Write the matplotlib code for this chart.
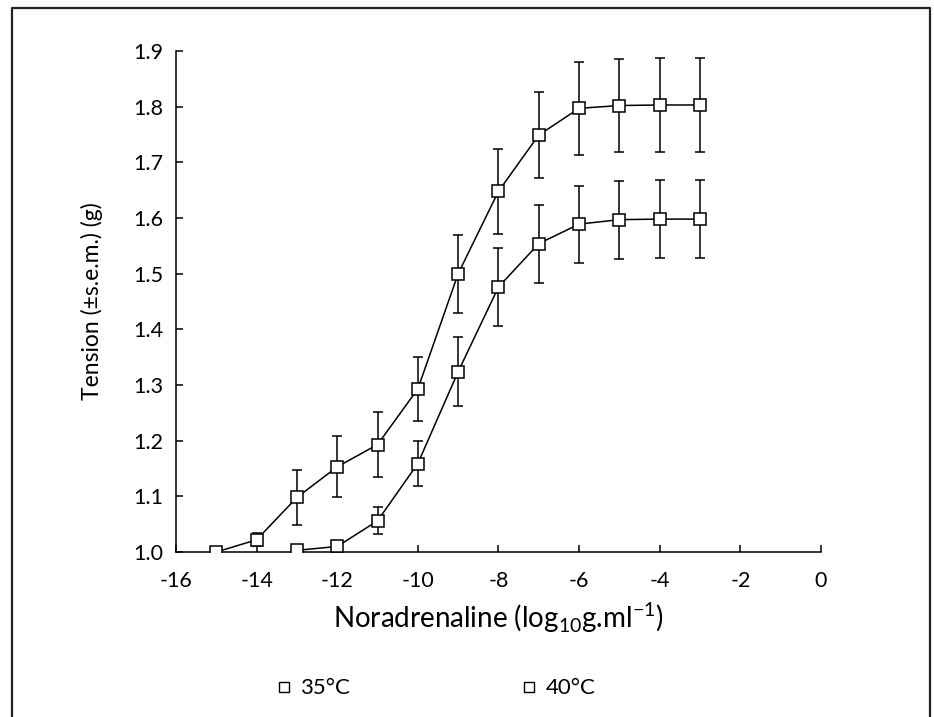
import numpy as np
import matplotlib
matplotlib.use('Agg')
import matplotlib.pyplot as plt
from matplotlib.lines import Line2D

plt.rcParams['font.family'] = ['Lato', 'DejaVu Sans']
plt.rcParams['mathtext.fontset'] = 'custom'
plt.rcParams['mathtext.rm'] = 'Lato'

# Noradrenaline concentration (log10 g/ml)
conc_35 = [-15, -14, -13, -12, -11, -10, -9, -8, -7, -6, -5, -4, -3]
tension_35 = [1.000, 1.022, 1.098, 1.153, 1.193, 1.293, 1.500, 1.648, 1.749, 1.797, 1.802, 1.803, 1.803]
sem_35 = [0.0, 0.012, 0.050, 0.055, 0.059, 0.058, 0.070, 0.076, 0.077, 0.084, 0.084, 0.084, 0.084]

conc_40 = [-13, -12, -11, -10, -9, -8, -7, -6, -5, -4, -3]
tension_40 = [1.003, 1.010, 1.056, 1.159, 1.324, 1.476, 1.554, 1.589, 1.597, 1.598, 1.598]
sem_40 = [0.0, 0.0, 0.024, 0.041, 0.062, 0.070, 0.070, 0.069, 0.070, 0.070, 0.070]

series_labels = ['35\u00b0C', '40\u00b0C']
x_ticks = [-16, -14, -12, -10, -8, -6, -4, -2, 0]
y_ticks = [1.0, 1.1, 1.2, 1.3, 1.4, 1.5, 1.6, 1.7, 1.8, 1.9]

fig = plt.figure(figsize=(9.34, 7.17), dpi=100)
ax = fig.add_axes([0.1884, 0.2301, 0.6906, 0.6988])

style = dict(color='black', lw=1.1, marker='s', ms=9.0, mfc='white', mec='black',
             mew=1.1, ecolor='black', elinewidth=1.1, capsize=3.5, capthick=1.1)
ax.errorbar(conc_35, tension_35, yerr=sem_35, zorder=3, **style)
ax.errorbar(conc_40, tension_40, yerr=sem_40, zorder=3, **style)

ax.set_xlim(-16, 0)
ax.set_ylim(1.0, 1.9)
ax.set_xticks(x_ticks)
ax.set_xticklabels([str(t) for t in x_ticks])
ax.set_yticks(y_ticks)
ax.set_yticklabels(['%.1f' % t for t in y_ticks])
ax.tick_params(direction='in', length=5, width=1.1, labelsize=15.5)
ax.tick_params(axis='x', pad=14)
ax.tick_params(axis='y', pad=9)
for side in ['top', 'right']:
    ax.spines[side].set_visible(False)
for side in ['left', 'bottom']:
    ax.spines[side].set_linewidth(1.1)

ax.set_xlabel(r'Noradrenaline (log$_{\mathregular{10}}$g.ml$^{\mathregular{-1}}$)', fontsize=20, labelpad=6)
ax.set_ylabel('Tension (\u00b1s.e.m.) (g)', fontsize=16.5, labelpad=22)

# legend below the axis
handles = [Line2D([], [], ls='', marker='s', ms=7.5, mfc='white', mec='black', mew=1.0) for _ in series_labels]
fig.legend(handles, series_labels, loc='center left', bbox_to_anchor=(0.274, 0.04), ncol=2,
           frameon=False, fontsize=16, handlelength=0.7, handletextpad=0.4, columnspacing=7.7)

# frame around the figure (open at the bottom)
fig.add_artist(Line2D([0.013, 0.013, 0.996, 0.996], [0.0, 0.989, 0.989, 0.0],
                      transform=fig.transFigure, color='#222222', lw=1.6))

fig.savefig('out.png', dpi=100)
